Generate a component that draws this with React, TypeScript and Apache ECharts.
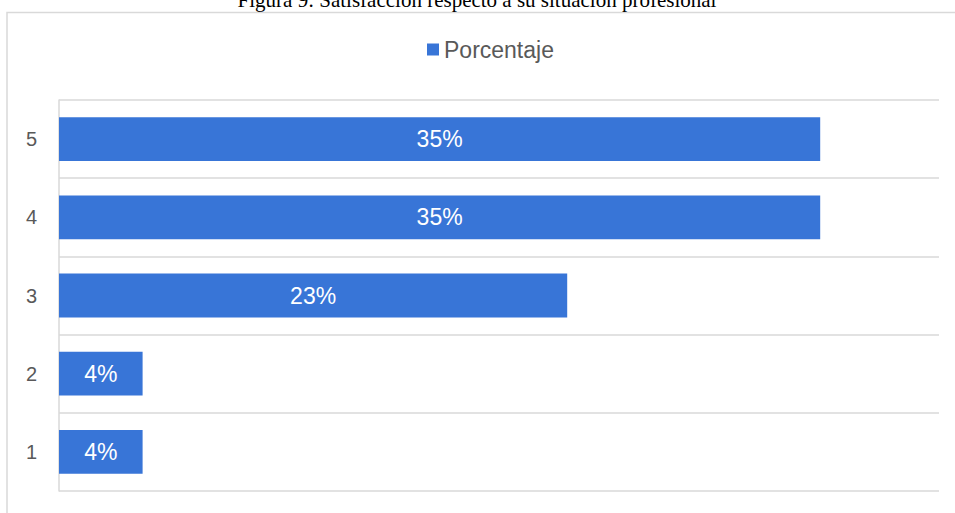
import React, { useEffect, useRef } from "react";
import * as echarts from "echarts";

const categories = ["1", "2", "3", "4", "5"];
const porcentaje = [3.8, 3.8, 23.1, 34.6, 34.6];
const seriesName = "Porcentaje";
const titleText = "Figura 9: Satisfacción respecto a su situación profesional";
const axisMax = 40;

export default function App() {
  const ref = useRef<HTMLDivElement>(null);
  useEffect(() => {
    if (!ref.current) return;
    const chart = echarts.init(ref.current, undefined, { renderer: "svg" });
    const sans = "Liberation Sans";
    chart.setOption({
      animation: false,
      backgroundColor: "#ffffff",
      graphic: [
        {
          type: "rect",
          z: -10,
          shape: { x: 7, y: 12.5, width: 960, height: 520 },
          style: { fill: "none", stroke: "#d9d9d9", lineWidth: 1.5 },
        },
        {
          type: "text",
          x: 477,
          y: -0.5,
          style: {
            text: titleText,
            fontFamily: "Liberation Serif",
            fontSize: 21,
            fill: "#000000",
            align: "center",
            verticalAlign: "middle",
          },
        },
      ],
      legend: {
        data: [seriesName],
        left: 427,
        top: 38,
        padding: 0,
        icon: "rect",
        itemWidth: 12,
        itemHeight: 12,
        textStyle: { fontFamily: sans, fontSize: 23, color: "#595959" },
      },
      grid: { left: 59, top: 100, right: 16, bottom: 22, containLabel: false },
      xAxis: {
        type: "value",
        min: 0,
        max: axisMax,
        show: false,
        splitLine: { show: false },
      },
      yAxis: {
        type: "category",
        data: categories,
        axisLine: { show: true, lineStyle: { color: "#d9d9d9", width: 1.5 } },
        axisTick: { show: false },
        axisLabel: { fontFamily: sans, fontSize: 20, color: "#595959", margin: 22 },
        splitLine: { show: true, lineStyle: { color: "#d9d9d9", width: 1.5 } },
      },
      series: [
        {
          name: seriesName,
          type: "bar",
          data: porcentaje,
          barWidth: "56%",
          itemStyle: { color: "#3875d7" },
          label: {
            show: true,
            position: "inside",
            color: "#ffffff",
            fontFamily: sans,
            fontSize: 23,
            formatter: (p: any) => Math.round(p.value) + "%",
          },
        },
      ],
    });
    return () => chart.dispose();
  }, []);
  return (
    <div
      ref={ref}
      style={{ position: "fixed", left: 0, top: 0, width: 955, height: 513 }}
    />
  );
}
